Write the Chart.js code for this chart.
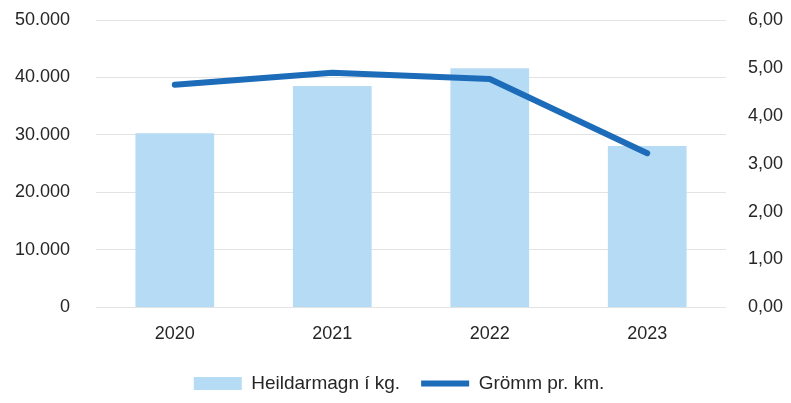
<!DOCTYPE html>
<html>
<head>
<meta charset="utf-8">
<script src="https://cdn.jsdelivr.net/npm/chart.js@4"></script>
<style>
  html, body { margin: 0; padding: 0; background: #fff; }
  #wrap { width: 791px; height: 403px; }
</style>
</head>
<body>
<div id="wrap"><canvas id="chart"></canvas></div>
<script>
// data
const years = ['2020', '2021', '2022', '2023']
const heildarmagn = [30300, 38500, 41600, 28100]   // kg, left axis
const grommPrKm = [4.65, 4.90, 4.77, 3.22]          // right axis

const fontFam = '"Liberation Sans", Arial, sans-serif'
const textColor = '#262626'

new Chart(document.getElementById('chart'), {
  type: 'bar',
  data: {
    labels: years,
    datasets: [
      {
        type: 'line',
        label: 'Grömm pr. km.',
        data: grommPrKm,
        yAxisID: 'y2',
        borderColor: '#1c6cba',
        backgroundColor: '#1c6cba',
        borderWidth: 6,
        borderCapStyle: 'round',
        borderJoinStyle: 'round',
        pointRadius: 0,
        pointStyle: 'line',
        tension: 0,
        order: 0
      },
      {
        label: 'Heildarmagn í kg.',
        data: heildarmagn,
        yAxisID: 'y',
        backgroundColor: '#b5dcf4',
        borderWidth: 0,
        barPercentage: 0.5,
        categoryPercentage: 1,
        pointStyle: 'rect',
        order: 1
      }
    ]
  },
  options: {
    responsive: true,
    maintainAspectRatio: false,
    animation: false,
    layout: { padding: { left: 12, right: 5, top: 20, bottom: 0 } },
    plugins: {
      tooltip: { enabled: false },
      legend: {
        position: 'bottom',
        reverse: true,
        labels: {
          usePointStyle: true,
          pointStyleWidth: 48,
          boxWidth: 48,
          boxHeight: 13,
          padding: 21,
          color: textColor,
          font: { family: fontFam, size: 19 }
        }
      }
    },
    scales: {
      x: {
        grid: { display: false },
        border: { display: false },
        ticks: { color: textColor, padding: 8, font: { family: fontFam, size: 18 } }
      },
      y: {
        position: 'left',
        min: 0,
        max: 50000,
        grid: { color: '#e3e3e3', lineWidth: 1, tickLength: 23, tickColor: 'rgba(0,0,0,0)' },
        border: { display: false },
        ticks: {
          stepSize: 10000,
          padding: 3,
          color: textColor,
          font: { family: fontFam, size: 18 },
          callback: v => v.toLocaleString('de-DE')
        }
      },
      y2: {
        position: 'right',
        min: 0,
        max: 6,
        grid: { display: false, drawOnChartArea: false, tickLength: 19 },
        border: { display: false },
        ticks: {
          stepSize: 1,
          padding: 3,
          color: textColor,
          font: { family: fontFam, size: 18 },
          callback: v => v.toFixed(2).replace('.', ',')
        }
      }
    }
  }
})
</script>
</body>
</html>
